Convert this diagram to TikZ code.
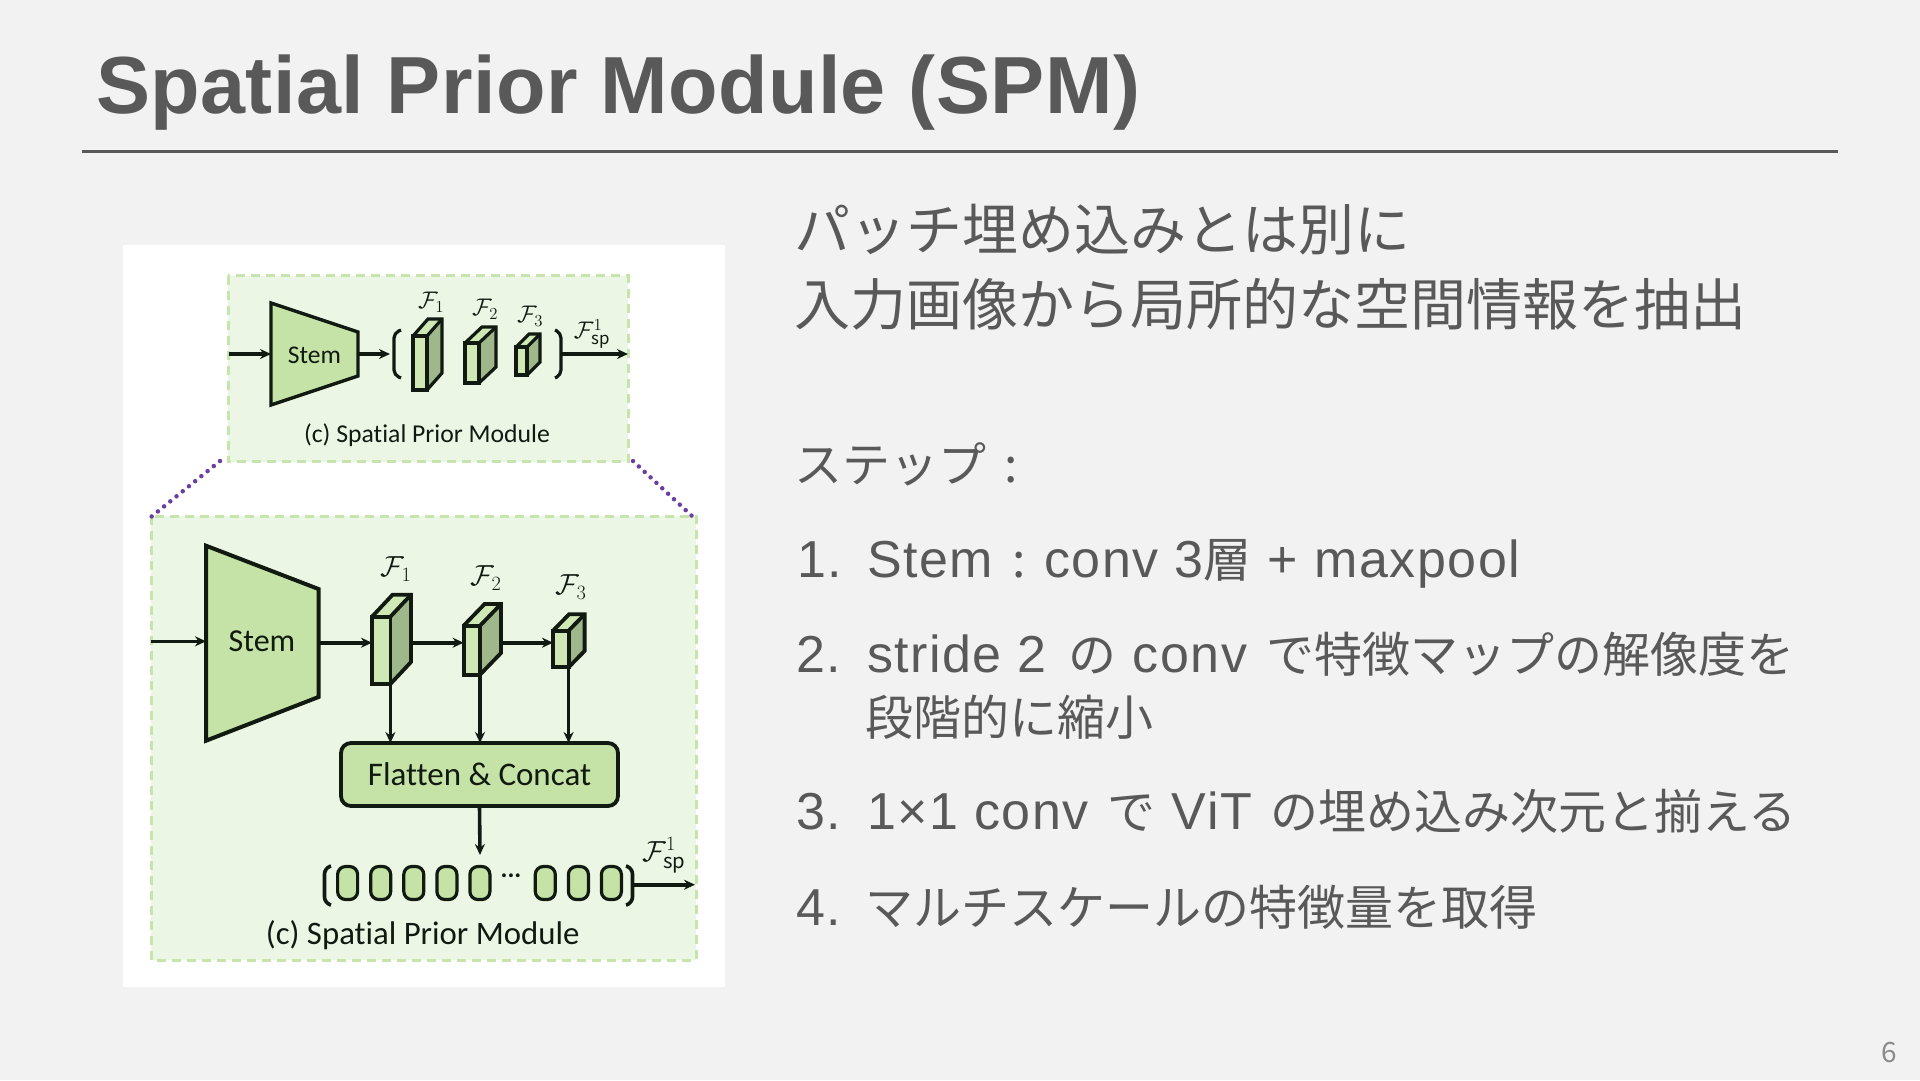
\documentclass[tikz,border=0pt]{standalone}
\usepackage{fix-cm}
\usepackage{fontspec}
\usetikzlibrary{arrows.meta}
\setmainfont{Noto Sans CJK JP}
\newfontfamily\capfont[Ligatures=NoCommon]{Carlito}
\newfontfamily\latf[LetterSpace=3]{Liberation Sans}
\newfontfamily\titlef[LetterSpace=0.5]{Liberation Sans}
\newcommand{\Lat}[1]{{\latf\fontsize{52}{52}\selectfont #1}}
\definecolor{bgc}{HTML}{F2F2F2}
\definecolor{ink}{HTML}{595959}
\definecolor{panel}{HTML}{ECF6E4}
\definecolor{dashc}{HTML}{C6E4AC}
\definecolor{stemc}{HTML}{C5E3A6}
\definecolor{frontc}{HTML}{CFE8B6}
\definecolor{sidec}{HTML}{A0B78C}
\definecolor{dark}{HTML}{111A11}
\definecolor{dotc}{HTML}{6B3FA0}
\tikzset{
 txt/.style={anchor=base west,inner sep=0pt,outer sep=0pt,text=ink},
 sz/.style={font=\fontsize{#1}{#1}\selectfont},
 panelbox/.style={fill=panel,draw=dashc,line width=3pt,dash pattern=on 9pt off 6pt},
 link/.style={draw=dotc,line width=4.5pt,dash pattern=on 0pt off 8pt,line cap=round},
 shapeline/.style={draw=dark,line join=miter},
 arr/.style={draw=dark,-{Stealth[length=11pt,width=10pt]}},
 lab/.style={inner sep=0pt,outer sep=0pt,text=dark},
 cfront/.style={draw=dark,fill=frontc,inner sep=0pt,outer sep=0pt},
 oval/.style={draw=dark,fill=stemc,line width=3.2pt,rounded corners=8pt,minimum width=20pt,minimum height=33pt,inner sep=0pt,outer sep=0pt},
}
% #1 name, #2 x0, #3 x1, #4 y0, #5 y1 (front face), #6 dx, #7 dy, #8 line width
\newcommand{\cuboid}[8]{%
 \fill[sidec] (#3,#4) -- ++(#6,-#7) -- (#3+#6,#5-#7) -- (#3,#5) -- cycle;
 \fill[frontc] (#2,#4) -- ++(#6,-#7) -- (#3+#6,#4-#7) -- (#3,#4) -- cycle;
 \draw[shapeline,line width=#8] (#2,#4) -- ++(#6,-#7) -- (#3+#6,#4-#7) -- (#3+#6,#5-#7) -- (#3,#5);
 \draw[shapeline,line width=#8] (#3,#4) -- ++(#6,-#7);
 \node[cfront,line width=#8,minimum width={(#3-#2)*1pt},minimum height={(#5-#4)*1pt},anchor=north west] (#1) at (#2,#4) {};
}
\begin{document}
\begin{tikzpicture}[x=1pt,y=-1pt]
\useasboundingbox (0,0) rectangle (1920,1080);
\fill[bgc] (0,0) rectangle (1920,1080);
% title
\node[txt,font=\titlef\bfseries\fontsize{81}{81}\selectfont] (title) at (96,113) {Spatial Prior Module (SPM)};
\coordinate (ruleL) at (82,151); \coordinate (ruleR) at (1838,151);
\draw[ink,line width=3pt] (ruleL) -- (ruleR);
% white panel
\fill[white] (123,245) rectangle (725,987);
% small panel
\draw[panelbox] (228,275.7) rectangle (628,461.7);
\coordinate (sIn) at (229,354); \coordinate (sOut) at (628,354);
\draw[shapeline,fill=stemc,line width=3.4pt] (271,303) -- (358,332) -- (358,376) -- (271,405) -- cycle;
\node[lab,font=\capfont\fontsize{25.5}{25.5}\selectfont] (sStem) at (314.5,355) {Stem};
\coordinate (sStemL) at (271,354); \coordinate (sStemR) at (358,354);
\coordinate (sBrL) at (390,354);
\draw[arr,line width=3.2pt] (sIn) -- (sStemL);
\draw[arr,line width=3.2pt] (sStemR) -- (sBrL);
\cuboid{s1}{413}{427}{336}{390}{15}{17}{3.2pt}
\cuboid{s2}{465}{479}{343}{383}{17}{16}{3.2pt}
\cuboid{s3}{516}{527}{347}{375}{13}{13}{3.2pt}
\draw[dark,line width=3.2pt,rounded corners=5pt] (401,330) -- (394,333) -- (394,375) -- (401,378);
\draw[dark,line width=3.2pt,rounded corners=5pt] (555,330) -- (561,333) -- (561,375) -- (555,378);
\coordinate (sBrR) at (562,354);
\draw[arr,line width=3.2pt] (sBrR) -- (sOut);
\node[lab,font=\fontsize{24}{24}\selectfont] (sF1) at (431,302) {$\mathcal{F}_1$};
\node[lab,font=\fontsize{24}{24}\selectfont] (sF2) at (485,309) {$\mathcal{F}_2$};
\node[lab,font=\fontsize{24}{24}\selectfont] (sF3) at (530,316) {$\mathcal{F}_3$};
\node[lab,font=\fontsize{24}{24}\selectfont] (sFsp) at (592,334) {$\mathcal{F}_{\mathrm{sp}}^{1}$};
\node[lab,font=\capfont\fontsize{25.7}{25.7}\selectfont] (sCap) at (427,435) {(c) Spatial Prior Module};
% big panel
\draw[panelbox] (151,516) rectangle (696,960);
% zoom links
\coordinate (lA) at (220,461); \coordinate (lB) at (151,517);
\coordinate (lC) at (633,461); \coordinate (lD) at (692,516);
\draw[link] (lA) -- (lB);
\draw[link] (lC) -- (lD);
% big stem
\draw[shapeline,fill=stemc,line width=4pt] (206,545.7) -- (318.5,589) -- (318.5,697) -- (206,740.7) -- cycle;
\node[lab,font=\capfont\fontsize{32}{32}\selectfont] (bStem) at (262,641.7) {Stem};
\coordinate (bIn) at (151,641.3); \coordinate (bStemL) at (206,641.3); \coordinate (bStemR) at (318.5,642.7);
\cuboid{b1}{372}{390.4}{616.7}{684}{20.6}{22}{3.8pt}
\cuboid{b2}{463.6}{480}{625.7}{674.7}{21}{21.7}{3.8pt}
\cuboid{b3}{553}{568.6}{630.7}{667.3}{16}{16.4}{3.8pt}
\draw[arr,line width=3.6pt] (bIn) -- (bStemL);
\draw[arr,line width=3.6pt] (bStemR) -- (b1.west |- bStemR);
\coordinate (b1o) at (411,642.7); \coordinate (b2o) at (501,642.7);
\draw[arr,line width=3.6pt] (b1o) -- (b2.west |- b1o);
\draw[arr,line width=3.6pt] (b2o) -- (b3.west |- b2o);
\node[draw=dark,fill=stemc,line width=3.8pt,rounded corners=10pt,minimum width=277pt,minimum height=63pt,inner sep=0pt,outer sep=0pt,text=dark,font=\capfont\fontsize{33}{33}\selectfont] (flat) at (479.5,774.5) {Flatten \& Concat};
\draw[arr,line width=3.6pt] (b1.south east) -- (b1.south east |- flat.north);
\draw[arr,line width=3.6pt] (b2.south east) -- (b2.south east |- flat.north);
\draw[arr,line width=3.6pt] (b3.south east) -- (b3.south east |- flat.north);
\coordinate (vecTop) at (480,855);
\draw[arr,line width=3.6pt] (flat.south) -- (vecTop);
\node[oval] (o1) at (347.6,883) {};
\node[oval] (o2) at (380.7,883) {};
\node[oval] (o3) at (413.8,883) {};
\node[oval] (o4) at (446.9,883) {};
\node[oval] (o5) at (479.9,883) {};
\node[oval] (o6) at (545.3,883) {};
\node[oval] (o7) at (578.4,883) {};
\node[oval] (o8) at (611.4,883) {};
\node[lab,font=\capfont\bfseries\fontsize{26}{26}\selectfont] (odots) at (511,876) {...};
\draw[dark,line width=3.6pt,rounded corners=6pt] (331,866) -- (324.5,868) -- (324.5,903) -- (331,905);
\draw[dark,line width=3.6pt,rounded corners=6pt] (626,866) -- (632.5,868) -- (632.5,903) -- (626,905);
\coordinate (bBrR) at (634,884.7); \coordinate (bOut) at (695,884.7);
\draw[arr,line width=3.6pt] (bBrR) -- (bOut);
\node[lab,font=\fontsize{29}{29}\selectfont] (bF1) at (396,569) {$\mathcal{F}_1$};
\node[lab,font=\fontsize{29}{29}\selectfont] (bF2) at (486,578) {$\mathcal{F}_2$};
\node[lab,font=\fontsize{29}{29}\selectfont] (bF3) at (571,587) {$\mathcal{F}_3$};
\node[lab,font=\fontsize{29}{29}\selectfont] (bFsp) at (664,855.5) {$\mathcal{F}_{\mathrm{sp}}^{1}$};
\node[lab,font=\capfont\fontsize{32.8}{32.8}\selectfont] (bCap) at (422.7,935) {(c) Spatial Prior Module};
% right text
\node[txt,sz=56] (t1) at (794,250) {パッチ埋め込みとは別に};
\node[txt,sz=56] (t2) at (794,325) {入力画像から局所的な空間情報を抽出};
\node[txt,sz=48] (t3) at (794,482) {ステップ\hspace{18pt}:};
\node[txt,sz=48] (n1) at (797,577) {\Lat{1.}};
\node[txt,sz=48] (i1) at (867,577) {\Lat{Stem}\hspace{19pt}:\hspace{19pt}\Lat{conv 3}層\Lat{ + maxpool}};
\node[txt,sz=48] (n2) at (796,672) {\Lat{2.}};
\node[txt,sz=48] (i2) at (867,672) {\Lat{stride 2 }\hspace{6pt}の\Lat{ conv }\hspace{3pt}で特徴マップの解像度を};
\node[txt,sz=48] (i2b) at (865,735) {段階的に縮小};
\node[txt,sz=48] (n3) at (796,829) {\Lat{3.}};
\node[txt,sz=48] (i3) at (867,829) {\Lat{1×1 conv }\hspace{3pt}で\Lat{ ViT }\hspace{2pt}の埋め込み次元と揃える};
\node[txt,sz=48] (n4) at (796,925) {\Lat{4.}};
\node[txt,sz=48] (i4) at (865,925) {マルチスケールの特徴量を取得};
\node[txt,sz=28,text=ink!70!white] (pg) at (1881,1062) {6};
\end{tikzpicture}
\end{document}
